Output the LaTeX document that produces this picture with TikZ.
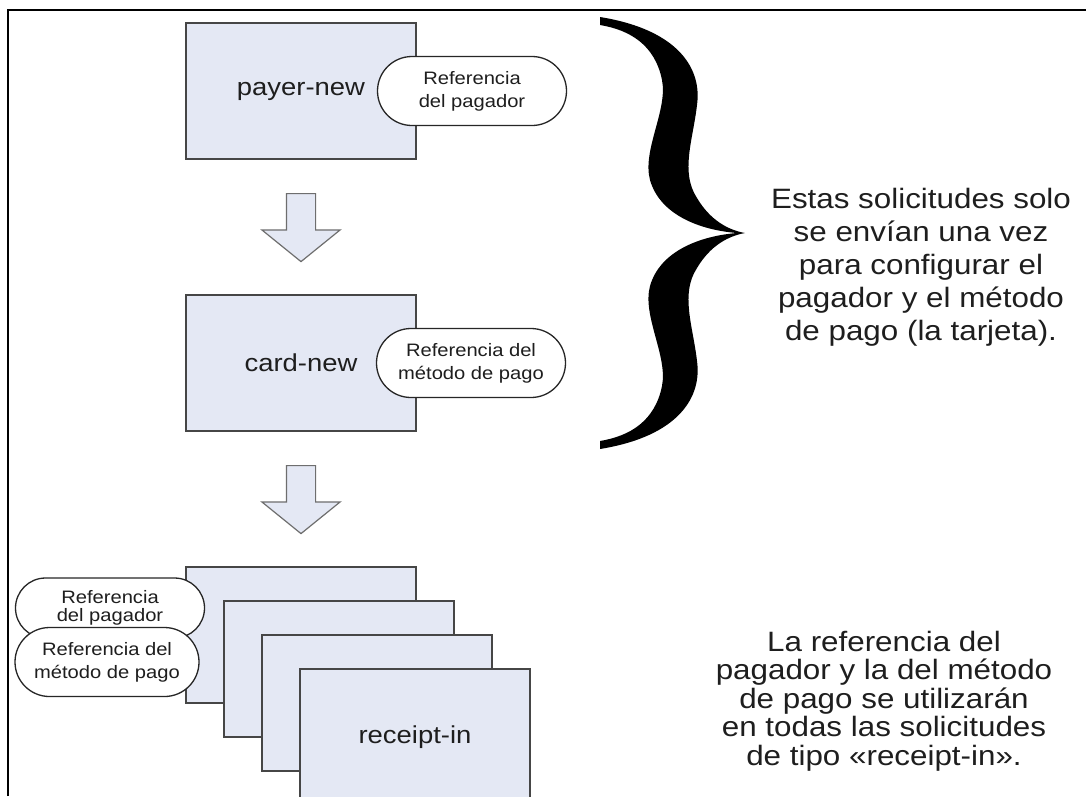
\documentclass[tikz,border=0pt]{standalone}
\usepackage{fontspec}
\setmainfont{Liberation Sans}[FakeStretch=1.12]
\usetikzlibrary{shapes.misc,shapes.arrows,positioning}

\definecolor{boxfill}{RGB}{228,232,244}
\definecolor{boxline}{RGB}{70,70,70}
\definecolor{arrline}{RGB}{110,110,110}
\definecolor{txt}{RGB}{30,30,30}

\tikzset{
  reqbox/.style={draw=boxline,fill=boxfill,line width=1.5pt,minimum width=230pt,
    minimum height=136pt,inner sep=0pt,text=txt,font=\fontsize{24.5}{29}\selectfont},
  refpill/.style={rounded rectangle,draw=black!85,fill=white,line width=1.3pt,
    minimum width=189pt,minimum height=69pt,inner sep=0pt,align=center,text=txt,
    font=\fontsize{18}{23}\selectfont},
  blockarrow/.style={single arrow,rotate=-90,anchor=tail,draw=arrline,fill=boxfill,
    line width=1.2pt,minimum height=68pt,inner sep=14pt,
    single arrow head extend=24.5pt,single arrow tip angle=102},
  note/.style={align=center,text=txt}
}

\begin{document}
\begin{tikzpicture}[x=1pt,y=-1pt]
\useasboundingbox (0,0) rectangle (1086,796);

% frame
\draw[line width=2pt] (8,796) -- (8,10) -- (1086,10);

\node[reqbox] (payer) at (301,91) {payer-new};
\node[refpill] (payerref) at (472,91) {Referencia\\del pagador};

\node[blockarrow] (arr1) at (301,193) {};

\node[reqbox] (card) at (301,363) {card-new};
\node[refpill] (cardref) at (471,363) {Referencia del\\método de pago};

\node[blockarrow] (arr2) at (301,465) {};

% stack of receipt-in requests
\foreach \i in {0,1,2}
  \node[reqbox] (rin\i) at ({301+38*\i},{635+34*\i}) {};
\node[reqbox] (rin3) at (415,737) {receipt-in};

\node[refpill,minimum height=60pt,font=\fontsize{18}{18}\selectfont] (rinpayer) at (110,608)
  {Referencia\\del pagador};
\node[refpill,minimum width=184pt] (rincard) at (107,662) {Referencia del\\método de pago};

% brace
\fill (600,17) .. controls (680,30) and (702,70) .. (697,105)
  .. controls (693,140) and (680,172) .. (697,198)
  .. controls (710,220) and (728,230) .. (745,233)
  .. controls (728,236) and (710,246) .. (697,268)
  .. controls (680,294) and (693,326) .. (697,361)
  .. controls (702,396) and (680,436) .. (600,449)
  -- (600,441) .. controls (630,436) and (655,421) .. (662,386)
  .. controls (668,356) and (642,316) .. (650,286)
  .. controls (660,251) and (700,236) .. (737,233)
  .. controls (700,230) and (660,215) .. (650,180)
  .. controls (642,150) and (668,110) .. (662,80)
  .. controls (655,45) and (630,30) .. (600,25) -- cycle;

\node[note,font=\fontsize{28}{33}\selectfont] (once) at (921,267)
  {Estas solicitudes solo\\se envían una vez\\para configurar el\\pagador y el método\\de pago (la tarjeta).};
\node[note,font=\fontsize{28}{28.5}\selectfont] (always) at (884,701)
  {La referencia del\\pagador y la del método\\de pago se utilizarán\\en todas las solicitudes\\de tipo «receipt-in».};

\end{tikzpicture}
\end{document}
